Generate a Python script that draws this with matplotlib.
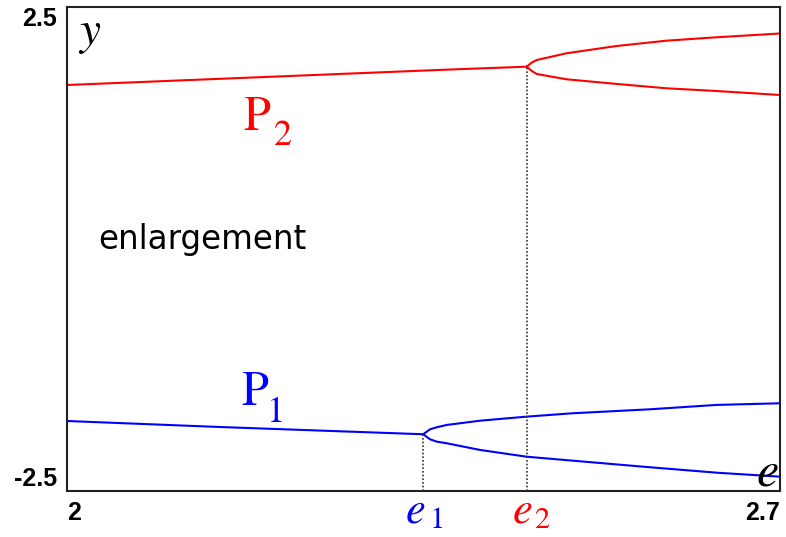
import matplotlib
matplotlib.use("Agg")
import matplotlib.pyplot as plt

# bifurcation points
e1, y1 = 2.3498, -1.914
e2, y2 = 2.4513, 1.883

# P1 branch (blue)
p1_stem_e = [2.0, 2.15, e1]
p1_stem_y = [-1.777, -1.839, y1]
p1_upper_e = [e1, 2.3564, 2.363, 2.3728, 2.4055, 2.4513, 2.4968, 2.5724, 2.6378, 2.70]
p1_upper_y = [y1, -1.863, -1.842, -1.818, -1.774, -1.732, -1.697, -1.656, -1.611, -1.594]
p1_lower_e = [e1, 2.3564, 2.363, 2.3728, 2.4055, 2.4513, 2.4968, 2.5724, 2.6378, 2.70]
p1_lower_y = [y1, -1.966, -1.990, -2.007, -2.076, -2.146, -2.187, -2.255, -2.311, -2.352]

# P2 branch (red)
p2_stem_e = [2.0, 2.376, e2]
p2_stem_y = [1.694, 1.854, y2]
p2_upper_e = [e2, 2.4562, 2.4611, 2.4906, 2.5397, 2.5887, 2.6378, 2.70]
p2_upper_y = [y2, 1.925, 1.952, 2.022, 2.097, 2.152, 2.187, 2.226]
p2_lower_e = [e2, 2.4562, 2.4611, 2.4906, 2.5397, 2.5887, 2.6378, 2.70]
p2_lower_y = [y2, 1.840, 1.808, 1.753, 1.705, 1.660, 1.632, 1.591]

xlim = (2.0, 2.7)
ylim = (-2.5, 2.5)
red = "#ff0000"
blue = "#0000ff"
serif = "STIXGeneral"

fig = plt.figure(figsize=(7.86, 5.37), dpi=100)
ax = fig.add_axes([0.0852, 0.0857, 0.9071, 0.9013])
ax.set_xlim(xlim)
ax.set_ylim(ylim)

lw = 1.5
for xs, ys in [(p1_stem_e, p1_stem_y), (p1_upper_e, p1_upper_y), (p1_lower_e, p1_lower_y)]:
    ax.plot(xs, ys, color=blue, lw=lw, solid_joinstyle="round")
for xs, ys in [(p2_stem_e, p2_stem_y), (p2_upper_e, p2_upper_y), (p2_lower_e, p2_lower_y)]:
    ax.plot(xs, ys, color=red, lw=lw, solid_joinstyle="round")

# dotted drop lines at the bifurcation values
ax.plot([e1, e1], [ylim[0], y1], color="#333333", lw=1.2, ls=(0, (1, 1.2)))
ax.plot([e2, e2], [ylim[0], y2], color="#333333", lw=1.2, ls=(0, (1, 1.2)))

for sp in ax.spines.values():
    sp.set_color("#222222")
    sp.set_linewidth(1.5)

ax.set_xticks(list(xlim))
ax.set_xticklabels(["2", "2.7"])
ax.set_yticks(list(ylim))
ax.set_yticklabels(["-2.5", "2.5"])
ax.tick_params(length=0, labelsize=18, pad=7)
for lab in ax.get_xticklabels() + ax.get_yticklabels():
    lab.set_fontfamily("Liberation Sans")
    lab.set_fontweight("bold")
xl = ax.get_xticklabels()
xl[0].set_ha("left")
xl[1].set_ha("right")
yl = ax.get_yticklabels()
yl[0].set_va("bottom")
yl[1].set_va("top")

# axis names inside the frame
ax.text(2.0226, 2.118, "y", family=serif, style="italic", fontsize=34,
        color="black", ha="center", va="baseline")
ax.text(2.6874, -2.448, "e", family=serif, style="italic", fontsize=36,
        color="black", ha="center", va="baseline")

# branch labels
ax.text(2.1865, 1.229, "P", family=serif, fontsize=35, color=red, ha="center", va="baseline")
ax.text(2.2125, 1.074, "2", family=serif, fontsize=26, color=red, ha="center", va="baseline")
ax.text(2.1846, -1.612, "P", family=serif, fontsize=35, color=blue, ha="center", va="baseline")
ax.text(2.2052, -1.787, "1", family=serif, fontsize=26, color=blue, ha="center", va="baseline")

ax.text(2.0307, 0.0, "enlargement", fontsize=23.5, family="DejaVu Sans",
        color="black", ha="left", va="baseline")

# bifurcation value labels under the axis
ax.text(2.3426, -2.83, "e", family=serif, style="italic", fontsize=32,
        color=blue, ha="center", va="baseline", clip_on=False)
ax.text(2.3635, -2.882, "1", family=serif, fontsize=22,
        color=blue, ha="center", va="baseline", clip_on=False)
ax.text(2.4477, -2.83, "e", family=serif, style="italic", fontsize=32,
        color=red, ha="center", va="baseline", clip_on=False)
ax.text(2.4658, -2.882, "2", family=serif, fontsize=22,
        color=red, ha="center", va="baseline", clip_on=False)

fig.savefig("out.png", dpi=100)
